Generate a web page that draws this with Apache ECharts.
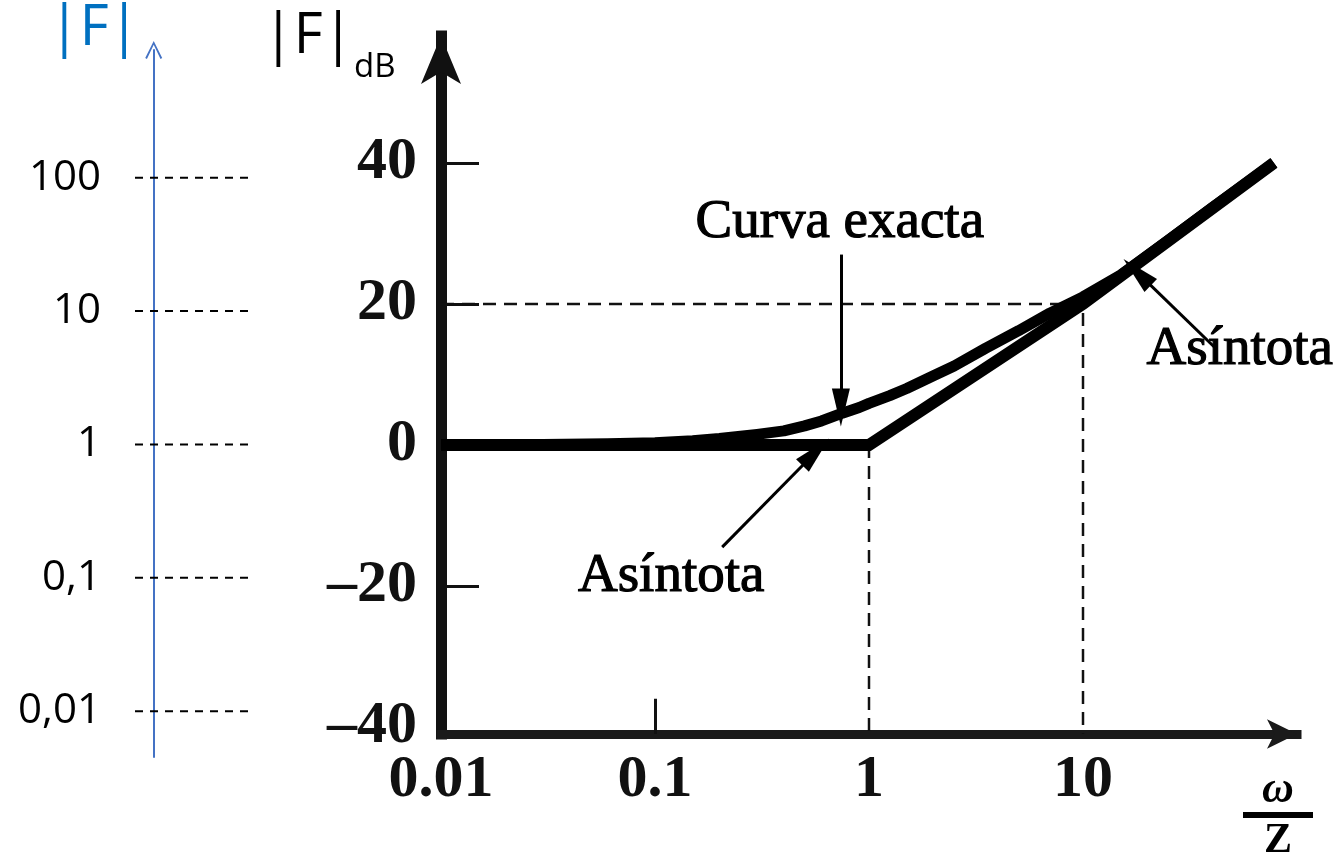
<!DOCTYPE html>
<html><head><meta charset="utf-8">
<script src="https://cdn.jsdelivr.net/npm/echarts@6/dist/echarts.min.js"></script>
<style>html,body{margin:0;padding:0;background:#fff}#c{width:1336px;height:855px}</style>
</head><body><div id="c"></div>
<script>
// Asymptote (ω/Z, dB)
const asymptoteW  = [0.01, 1, 10, 78];
const asymptoteDb = [0, 0, 20, 40];
// Exact curve (ω/Z, dB)
const exactW  = [0.01, 0.03, 0.06, 0.1, 0.15, 0.2, 0.3, 0.4, 0.5, 0.6, 0.75, 0.9, 1.0, 1.25, 1.5, 2, 2.5, 3.5, 5, 7, 10, 15, 25, 40, 78];
const exactDb = [0, 0.05, 0.15, 0.3, 0.6, 0.9, 1.5, 2.0, 2.7, 3.4, 4.5, 5.3, 5.9, 7.0, 8.0, 9.8, 11.2, 13.7, 16.2, 18.7, 21.0, 24.1, 29.0, 33.6, 40];
// Tick labels
const xTickValues = [0.01, 0.1, 1, 10];
const xTickLabels = ['0.01', '0.1', '1', '10'];
const xMarkTicks = [0.1];
const dbTickValues = [-40, -20, 0, 20, 40];
const dbTickLabels = ['\u201340', '\u201320', '0', '20', '40'];
const dbTickMarks = [-20, 20, 40];
const magTickLog = [-2, -1, 0, 1, 2];
const magTickLabels = ['0,01', '0,1', '1', '10', '100'];
// Dashed guides: 20 dB at ω=10, corner at ω=1
const guideW  = [10, 1];
const guideDb = [20, 0];
// Annotations
const noteText = ['Curva exacta', 'Asíntota', 'Asíntota'];
const noteW  = [0.73, 0.119, 54];
const noteDb = [31.6, -18.7, 13.5];
const arrowFromW  = [0.739, 0.206, 42];
const arrowFromDb = [27.0, -14.5, 13.6];
const arrowToW    = [0.739, 0.564, 17.9];
const arrowToDb   = [5.3, -1.0, 24.5];
// Axis ranges
const xMin = 0.01, xMax = 100, yMin = -41, yMax = 58;
const magMin = -2.343, magMax = 2.957;

const serif = '"Liberation Serif", "Times New Roman", serif';
const sans = '"Open Sans", "Noto Sans", sans-serif';

const chart = echarts.init(document.getElementById('c'), null, {renderer: 'canvas'});

function labelFor(vals, labels, v, isLog) {
  for (let i = 0; i < vals.length; i++) {
    const a = isLog ? Math.log10(vals[i]) : vals[i];
    const b = isLog ? Math.log10(v) : v;
    if (Math.abs(a - b) < 1e-6) return labels[i];
  }
  return '';
}

const guideSeries = [
  [[xMin, guideDb[0]], [guideW[0], guideDb[0]], [guideW[0], yMin]],
  [[guideW[1], guideDb[1]], [guideW[1], yMin]]
].map(d => ({
  type: 'line', xAxisIndex: 0, yAxisIndex: 0, data: d, symbol: 'none', silent: true, z: 2,
  lineStyle: {color: '#111', width: 2.5, type: [13, 8]}
}));

const magSeries = magTickLog.map(k => ({
  type: 'line', xAxisIndex: 1, yAxisIndex: 1, data: [[-0.16, k], [0.84, k]], symbol: 'none', silent: true,
  lineStyle: {color: '#000', width: 2, type: [8, 7]}
}));

const option = {
  backgroundColor: '#fff',
  animation: false,
  title: [
    {text: '|F|', left: 44, top: -4, textStyle: {fontFamily: sans, fontSize: 56, fontWeight: 'normal', color: '#0070C0'}},
    {text: '|F|', left: 258, top: 4, textStyle: {fontFamily: sans, fontSize: 56, fontWeight: 'normal', color: '#000'}},
    {text: 'dB', left: 349, top: 46, textStyle: {fontFamily: sans, fontSize: 33, fontWeight: 'normal', color: '#000'}},
    {text: '{w|ω}\n{bar| }\n{z|Z}', left: 1238, top: 768, textStyle: {
      rich: {
        w: {fontFamily: serif, fontSize: 44, fontWeight: 'bold', fontStyle: 'italic', color: '#000', width: 70, align: 'center', lineHeight: 36},
        bar: {width: 70, height: 6, backgroundColor: '#000', lineHeight: 12, fontSize: 4},
        z: {fontFamily: serif, fontSize: 42, fontWeight: 'bold', color: '#000', width: 70, align: 'center', lineHeight: 40}
      }
    }}
  ],
  grid: [
    {left: 441, right: 39, top: 36, bottom: 121, containLabel: false, outerBoundsMode: 'none'},
    {left: 135, width: 117, top: 50, bottom: 98, containLabel: false, outerBoundsMode: 'none'}
  ],
  xAxis: [
    {type: 'log', logBase: 10, gridIndex: 0, min: xMin, max: xMax,
      axisLine: {onZero: false, lineStyle: {color: '#1a1a1a', width: 9, cap: 'square'}, symbol: ['none', 'arrow'], symbolSize: [22, 30]},
      axisTick: {show: false}, minorTick: {show: false}, splitLine: {show: false}, minorSplitLine: {show: false},
      axisLabel: {formatter: v => labelFor(xTickValues, xTickLabels, v, true), fontFamily: serif, fontSize: 60, fontWeight: 'bold', color: '#111', margin: 16}
    },
    {type: 'value', gridIndex: 1, min: -0.16, max: 0.84, show: false}
  ],
  yAxis: [
    {type: 'value', gridIndex: 0, min: yMin, max: yMax,
      axisLine: {show: true, onZero: false, lineStyle: {color: '#111', width: 11, cap: 'square'}, symbol: ['none', 'arrow'], symbolSize: [30, 48]},
      axisTick: {show: true, inside: true, length: 38, lineStyle: {color: '#111', width: 3}, customValues: dbTickMarks},
      splitLine: {show: false},
      axisLabel: {customValues: dbTickValues, formatter: v => labelFor(dbTickValues, dbTickLabels, v, false), fontFamily: serif, fontSize: 60, fontWeight: 'bold', color: '#111', margin: 24}
    },
    {type: 'value', gridIndex: 1, min: magMin, max: magMax,
      axisLine: {show: true, onZero: true, lineStyle: {color: '#4472C4', width: 2}, symbol: ['none', 'path://M0,10 L5,0 L10,10 L9,10.6 L5,2.2 L1,10.6 Z'], symbolSize: [18, 18]},
      axisTick: {show: false}, splitLine: {show: false},
      axisLabel: {customValues: magTickLog, formatter: v => labelFor(magTickLog, magTickLabels, v, false), fontFamily: sans, fontSize: 42, color: '#000', margin: 34}
    }
  ],
  series: [
    ...guideSeries,
    {type: 'line', name: 'Asíntota', xAxisIndex: 0, yAxisIndex: 0, data: asymptoteW.map((w, i) => [w, asymptoteDb[i]]),
      symbol: 'none', silent: true, z: 5, lineStyle: {color: '#000', width: 12, join: 'miter'},
      markLine: {silent: true, symbol: ['none', 'none'], label: {show: false}, emphasis: {disabled: true},
        lineStyle: {color: '#111', width: 3, type: 'solid'},
        data: xMarkTicks.map(w => [{coord: [w, yMin]}, {coord: [w, yMin + 5]}])}
    },
    {type: 'line', name: 'Curva exacta', xAxisIndex: 0, yAxisIndex: 0, data: exactW.map((w, i) => [w, exactDb[i]]),
      symbol: 'none', silent: true, z: 5, smooth: false, lineStyle: {color: '#000', width: 11, join: 'round', cap: 'butt'}},
    {type: 'scatter', xAxisIndex: 0, yAxisIndex: 0, symbolSize: 1, silent: true, z: 6,
      itemStyle: {color: '#ffffff', opacity: 1},
      data: noteText.map((t, i) => ({name: t, value: [noteW[i], noteDb[i]]})),
      label: {show: true, position: 'inside', formatter: '{b}', fontFamily: serif, fontSize: 55, color: '#000', opacity: 1, textBorderColor: '#000', textBorderWidth: 1.2},
      markLine: {silent: true, symbol: ['none', 'triangle'], symbolSize: [18, 38], label: {show: false}, emphasis: {disabled: true},
        lineStyle: {color: '#000', width: 3, type: 'solid', opacity: 1},
        data: arrowFromW.map((w, i) => [{coord: [w, arrowFromDb[i]]}, {coord: [arrowToW[i], arrowToDb[i]]}])}
    },
    ...magSeries
  ]
};
chart.setOption(option);
</script>
</body></html>
